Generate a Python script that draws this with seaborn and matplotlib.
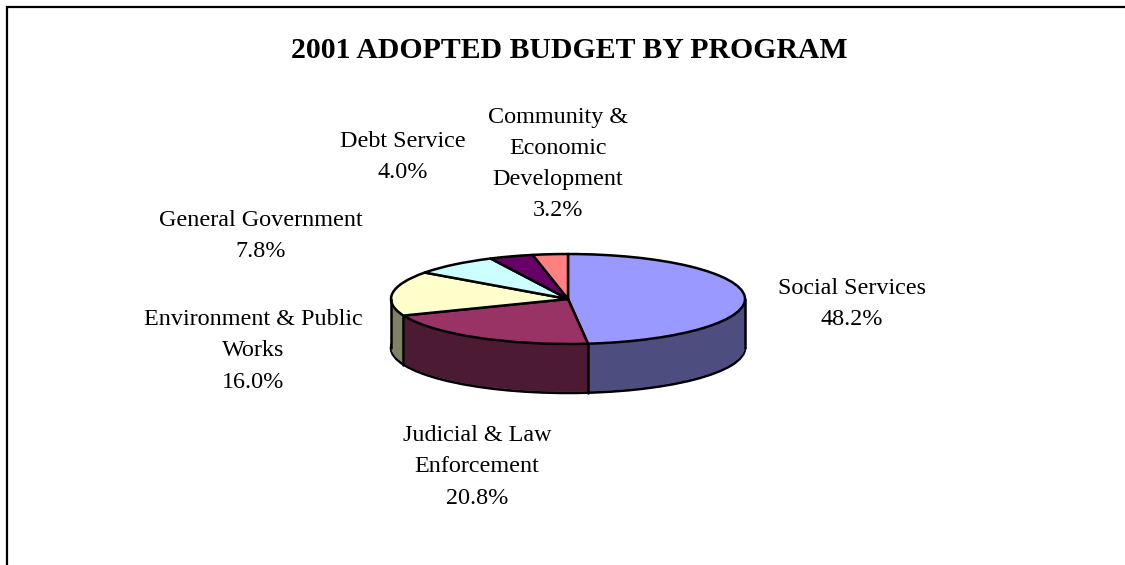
import matplotlib
matplotlib.use("Agg")
import matplotlib.pyplot as plt
import numpy as np
import seaborn as sns

# Program shares, in the order they go round the pie
programs = ["Social Services", "Judicial & Law\nEnforcement", "Environment & Public\nWorks",
            "General Government", "Debt Service", "Community &\nEconomic\nDevelopment"]
shares = [48.2, 20.8, 16.0, 7.8, 4.0, 3.2]
top_colors = ["#9999FF", "#993366", "#FFFFCC", "#CCFFFF", "#660066", "#FF8080"]
side_colors = ["#4D4D7F", "#4D1A33", "#808066", "#668080", "#330033", "#804040"]

# label centres in pixels of the 1125x565 picture
label_pos = [(852, 304), (477, 467), (253, 351), (261, 236), (403, 157), (558, 164)]

W, H = 1125, 565
sns.set_theme(style="white")
plt.rcParams["font.family"] = ["Liberation Serif", "DejaVu Serif"]

fig = plt.figure(figsize=(W / 100, H / 100), dpi=100)
fig.patch.set_facecolor("white")

# frame of the chart area, cut off on the right and at the bottom
frame = fig.add_axes([0, 0, 1, 1])
frame.set_xlim(0, W)
frame.set_ylim(H, 0)
frame.axis("off")
frame.plot([6.5, 6.5, W], [H, 6.5, 6.5], color="black", lw=1.6, solid_joinstyle="miter")

frame.text(569, 51, "2001 ADOPTED BUDGET BY PROGRAM", ha="center", va="center",
           fontsize=21.4, fontweight="bold", color="black")
for name, share, (x, y) in zip(programs, shares, label_pos):
    frame.text(x, y, f"{name}\n{share:.1f}%", ha="center", va="center",
               fontsize=17.4, color="black", linespacing=1.63)

# pie axes: radius 1 is stretched to the flat ellipse
cx, cy, rx, ry, depth_px = 568, 299, 177, 45, 49
depth = depth_px / ry
ax = fig.add_axes([(cx - rx) / W, 1 - (cy + ry + depth_px) / H, 2 * rx / W, (2 * ry + depth_px) / H])

# rim of the bottom first, the wall stack then hides its back half
ax.pie([100], colors=["#4D4D7F"], center=(0, -depth), wedgeprops={"edgecolor": "black", "linewidth": 1.8})

# side wall as a stack of dark pies going downwards
for d in np.linspace(depth - 0.03, 0, 60):
    ax.pie(shares, colors=side_colors, startangle=90, counterclock=False, center=(0, -d),
           wedgeprops={"linewidth": 0})

ax.pie(shares, colors=top_colors, startangle=90, counterclock=False,
       wedgeprops={"edgecolor": "black", "linewidth": 1.8, "joinstyle": "round"})

# wall edges, only boundaries on the front half show
angles = np.radians(np.cumsum(shares)[:-1] * 3.6)
for a in angles:
    if np.cos(a) < 0:
        ax.plot([np.sin(a)] * 2, [np.cos(a), np.cos(a) - depth], color="black", lw=1.8)
ax.plot([-1, -1], [0, -depth], color="black", lw=1.8)
ax.plot([1, 1], [0, -depth], color="black", lw=1.8)

ax.set_aspect("auto")
ax.set_xlim(-1, 1)
ax.set_ylim(-1 - depth, 1)
ax.axis("off")
for artist in ax.get_children():
    artist.set_clip_on(False)

fig.savefig("out.png", dpi=100)
